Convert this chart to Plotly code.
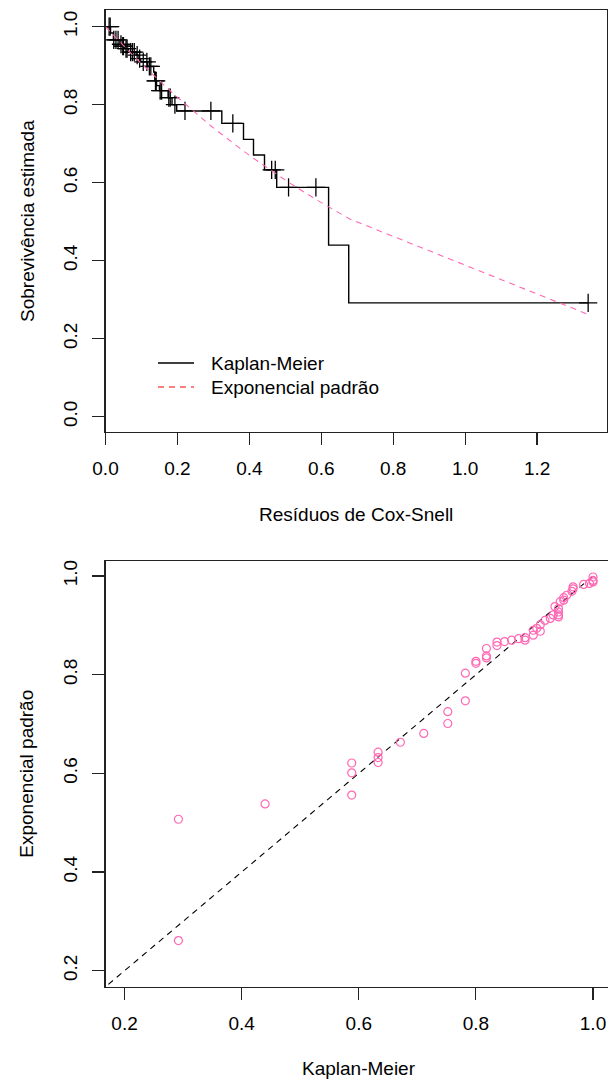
import plotly.graph_objects as go

# ---------------- data ----------------
# Top panel: Kaplan-Meier of Cox-Snell residuals (step times and survival after each step)
km_time = [0.000, 0.014, 0.022, 0.040, 0.046, 0.053, 0.064, 0.085, 0.093, 0.098,
           0.117, 0.134, 0.137, 0.142, 0.150, 0.174, 0.185, 0.198, 0.3234, 0.3837,
           0.4115, 0.4421, 0.476, 0.6203, 0.6763]
km_surv = [1.000, 0.984, 0.966, 0.955, 0.950, 0.944, 0.935, 0.927, 0.918, 0.910,
           0.898, 0.884, 0.861, 0.849, 0.836, 0.818, 0.800, 0.784, 0.752, 0.711,
           0.671, 0.633, 0.588, 0.440, 0.292]
# censored observations (+ marks)
cens_time = [0.010, 0.013, 0.023, 0.029, 0.035, 0.043, 0.048, 0.050, 0.057, 0.060,
             0.070, 0.075, 0.080, 0.088, 0.095, 0.105, 0.115, 0.122, 0.126, 0.139,
             0.141, 0.152, 0.156, 0.176, 0.180, 0.193, 0.221, 0.293, 0.354, 0.462,
             0.472, 0.509, 0.585, 1.342]
cens_surv = [1.000, 1.000, 0.966, 0.966, 0.966, 0.955, 0.950, 0.950, 0.944, 0.944,
             0.935, 0.935, 0.935, 0.927, 0.918, 0.910, 0.910, 0.898, 0.898, 0.861,
             0.861, 0.836, 0.836, 0.818, 0.818, 0.800, 0.784, 0.784, 0.752, 0.633,
             0.633, 0.588, 0.588, 0.292]
# standard exponential survival evaluated at the sorted residuals
exp_x = [0.000, 0.010, 0.020, 0.030, 0.050, 0.070, 0.090, 0.110, 0.130, 0.150,
         0.170, 0.190, 0.220, 0.290, 0.322, 0.355, 0.384, 0.411, 0.442, 0.476,
         0.509, 0.587, 0.620, 0.679, 1.343]
exp_y = [1.000, 0.990, 0.980, 0.970, 0.951, 0.932, 0.914, 0.896, 0.878, 0.861,
         0.844, 0.827, 0.803, 0.748, 0.725, 0.701, 0.681, 0.663, 0.643, 0.621,
         0.601, 0.556, 0.538, 0.507, 0.262]

# Bottom panel: Kaplan-Meier vs standard exponential at each observation
pp_km = [0.292, 0.292, 0.440, 0.588, 0.588, 0.588, 0.633, 0.633, 0.633, 0.671,
         0.711, 0.752, 0.752, 0.782, 0.782, 0.800, 0.800, 0.818, 0.818, 0.818,
         0.836, 0.836, 0.849, 0.861, 0.873, 0.884, 0.884, 0.898, 0.898, 0.904,
         0.910, 0.910, 0.918, 0.927, 0.932, 0.941, 0.941, 0.941, 0.941, 0.935,
         0.944, 0.950, 0.950, 0.955, 0.964, 0.966, 0.966, 0.984, 0.994, 1.000,
         1.000, 1.000]
pp_exp = [0.507, 0.261, 0.538, 0.621, 0.601, 0.556, 0.643, 0.632, 0.622, 0.663,
          0.681, 0.725, 0.701, 0.747, 0.803, 0.827, 0.823, 0.853, 0.838, 0.834,
          0.866, 0.859, 0.867, 0.870, 0.873, 0.875, 0.870, 0.880, 0.890, 0.894,
          0.888, 0.901, 0.910, 0.914, 0.921, 0.934, 0.927, 0.921, 0.917, 0.938,
          0.948, 0.956, 0.951, 0.961, 0.969, 0.978, 0.974, 0.983, 0.985, 0.988,
          0.991, 0.998]
ref_line = [0.0, 1.0]

top_xticks = [0.0, 0.2, 0.4, 0.6, 0.8, 1.0, 1.2]
top_yticks = [0.0, 0.2, 0.4, 0.6, 0.8, 1.0]
bot_ticks = [0.2, 0.4, 0.6, 0.8, 1.0]

legend_labels = ["Kaplan-Meier", "Exponencial padrão"]

# ---------------- figure ----------------
W, H = 608, 1081
FONT = "Liberation Sans, Arial, sans-serif"
FS = 19
PINK = "#FF69B4"

def px_x(p):
    return p / W

def px_y(p):
    return 1 - p / H

fig = go.Figure()

# KM step curve (extend to last censored time)
km_x = km_time + [max(cens_time)]
km_y = km_surv + [km_surv[-1]]
fig.add_trace(go.Scatter(x=km_x, y=km_y, mode="lines", line=dict(color="black", width=1.4, shape="hv"),
                         showlegend=False, xaxis="x", yaxis="y", hoverinfo="skip"))
fig.add_trace(go.Scatter(x=cens_time, y=cens_surv, mode="markers",
                         marker=dict(symbol="cross-thin-open", size=13, color="black",
                                     line=dict(color="black", width=1.3)),
                         showlegend=False, xaxis="x", yaxis="y", hoverinfo="skip"))
fig.add_trace(go.Scatter(x=exp_x, y=exp_y, mode="lines", line=dict(color=PINK, width=1.1, dash="6px,5px"),
                         showlegend=False, xaxis="x", yaxis="y", hoverinfo="skip"))

# bottom panel
fig.add_trace(go.Scatter(x=ref_line, y=ref_line, mode="lines", line=dict(color="black", width=1.1, dash="6px,5px"),
                         showlegend=False, xaxis="x2", yaxis="y2", hoverinfo="skip"))
fig.add_trace(go.Scatter(x=pp_km, y=pp_exp, mode="markers",
                         marker=dict(symbol="circle-open", size=8, color=PINK, line=dict(color=PINK, width=1.2)),
                         showlegend=False, xaxis="x2", yaxis="y2", hoverinfo="skip", cliponaxis=False))

axis_common = dict(showgrid=False, zeroline=False, showline=True, linecolor="#222", linewidth=1.2,
                   ticks="outside", ticklen=12, tickwidth=1.2, tickcolor="#222", automargin=False,
                   tickfont=dict(family=FONT, size=FS, color="black"))

fig.update_layout(
    width=W, height=H,
    margin=dict(l=0, r=0, t=0, b=0, autoexpand=False),
    paper_bgcolor="white", plot_bgcolor="white",
    font=dict(family=FONT, size=FS, color="black"),
    showlegend=False,
    xaxis=dict(domain=[px_x(105.5), px_x(606.5)], range=[0.0, 1.393], anchor="y",
               tickvals=top_xticks, ticktext=[f"{v:.1f}" for v in top_xticks], mirror=True,
               ticklabelstandoff=7, **axis_common),
    yaxis=dict(domain=[px_y(432), px_y(10)], range=[-0.0392, 1.0428], anchor="x",
               tickvals=top_yticks, ticktext=[f"{v:.1f}" for v in top_yticks], mirror=True,
               tickangle=-90, ticklabelstandoff=8, **axis_common),
    xaxis2=dict(domain=[px_x(105.5), 1.0], range=[0.1675, 1.0256], anchor="y2",
                tickvals=bot_ticks, ticktext=[f"{v:.1f}" for v in bot_ticks], mirror=True,
                ticklabelstandoff=7, **axis_common),
    yaxis2=dict(domain=[px_y(986.7), px_y(560.7)], range=[0.1676, 1.031], anchor="x2",
                tickvals=bot_ticks, ticktext=[f"{v:.1f}" for v in bot_ticks], mirror=False,
                tickangle=-90, ticklabelstandoff=8, **axis_common),
)

# legend (drawn like R's bty="n" legend)
legend_rows = [(363, dict(color="black", width=1.4)),
               (387, dict(color="red", width=1.1, dash="6px,5px"))]
for (ly, lstyle), lab in zip(legend_rows, legend_labels):
    fig.add_shape(type="line", xref="paper", yref="paper",
                  x0=px_x(158), x1=px_x(194), y0=px_y(ly), y1=px_y(ly), line=lstyle)
    fig.add_annotation(xref="paper", yref="paper", showarrow=False, xanchor="left", yanchor="middle",
                       x=px_x(209), y=px_y(ly), text=lab,
                       font=dict(family=FONT, size=FS, color="black"))

annots = [
    dict(text="Resíduos de Cox-Snell", x=px_x(355.5), y=px_y(514), textangle=0),
    dict(text="Sobrevivência estimada", x=px_x(27), y=px_y(221), textangle=-90),
    dict(text="Kaplan-Meier", x=px_x(358.7), y=px_y(1068), textangle=0),
    dict(text="Exponencial padrão", x=px_x(27), y=px_y(773.7), textangle=-90),
]
for a in annots:
    fig.add_annotation(xref="paper", yref="paper", showarrow=False, xanchor="center", yanchor="middle",
                       font=dict(family=FONT, size=FS, color="black"), **a)

fig.write_html("out.html",
               config={"displayModeBar": False, "staticPlot": True},
               post_script="document.body.style.margin='0';"
                           "document.documentElement.style.overflow='hidden';"
                           "document.body.style.overflow='hidden';")
